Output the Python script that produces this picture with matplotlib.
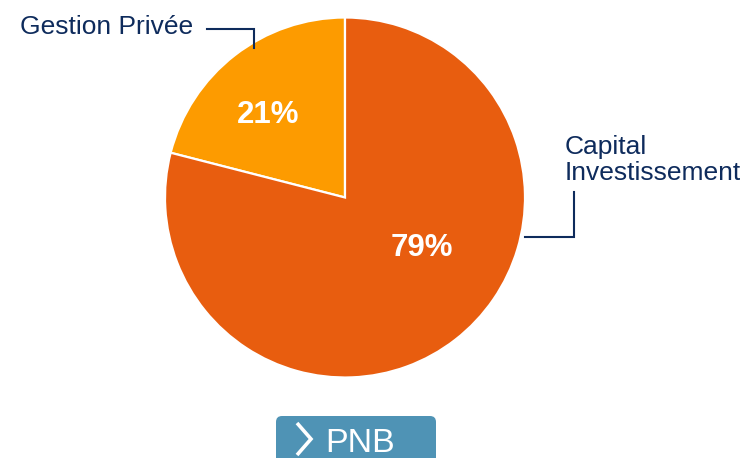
import matplotlib

matplotlib.use("Agg", force=True)

import matplotlib.pyplot as plt
from matplotlib.patches import FancyBboxPatch


W, H = 747, 458

CATEGORIES = ["Gestion Privée", "Capital\nInvestissement"]
SHARES = [21, 79]
PCT_LABELS = ["21%", "79%"]
COLORS = ["#FD9B00", "#E85D0F"]

NAVY = "#0E2B5C"
BUTTON_BLUE = "#4F93B5"
BUTTON_TEXT = "PNB"

plt.rcParams["font.family"] = ["Liberation Sans", "DejaVu Sans"]


def Y(py):
    # pixel row (from top) -> data y (from bottom)
    return H - py


def main():
    fig = plt.figure(figsize=(W / 100, H / 100), dpi=100)
    ax = fig.add_axes([0, 0, 1, 1])

    cx, cy, r = 345, Y(197.5), 180
    ax.pie(
        SHARES,
        colors=COLORS,
        startangle=90,
        counterclock=True,
        center=(cx, cy),
        radius=r,
        wedgeprops={"edgecolor": "white", "linewidth": 1.6},
        frame=True,
    )
    ax.set_xlim(0, W)
    ax.set_ylim(0, H)
    ax.set_aspect("equal")
    ax.axis("off")

    # percentage labels
    pct_pos = [(268, 115), (422, 248)]
    for (px, py), lab in zip(pct_pos, PCT_LABELS):
        ax.text(px, Y(py), lab, color="white", fontsize=22.5, fontweight="bold",
                ha="center", va="center")

    # category labels + leader lines
    ax.text(20, Y(34), CATEGORIES[0], color=NAVY, fontsize=19,
            ha="left", va="baseline")
    ax.plot([207, 254, 254], [Y(29), Y(29), Y(48)], color=NAVY, lw=1.5,
            solid_joinstyle="miter")

    ax.text(565, Y(180), CATEGORIES[1], color=NAVY, fontsize=19,
            ha="left", va="baseline", linespacing=1.1)
    ax.plot([525, 574, 574], [Y(237), Y(237), Y(192)], color=NAVY, lw=1.5,
            solid_joinstyle="miter")

    # button (cut by the bottom edge, as in the source)
    btn = FancyBboxPatch((276, Y(475)), 160, 59,
                         boxstyle="round,pad=0,rounding_size=6",
                         facecolor=BUTTON_BLUE, edgecolor="none")
    ax.add_patch(btn)
    ax.plot([297, 311, 297], [Y(423), Y(439), Y(455)], color="white", lw=2.6,
            solid_joinstyle="miter", solid_capstyle="butt")
    ax.text(325, Y(452), BUTTON_TEXT, color="white", fontsize=24.5,
            ha="left", va="baseline")

    fig.savefig("out.png", dpi=100)
    plt.close(fig)


if __name__ == "__main__":
    main()
